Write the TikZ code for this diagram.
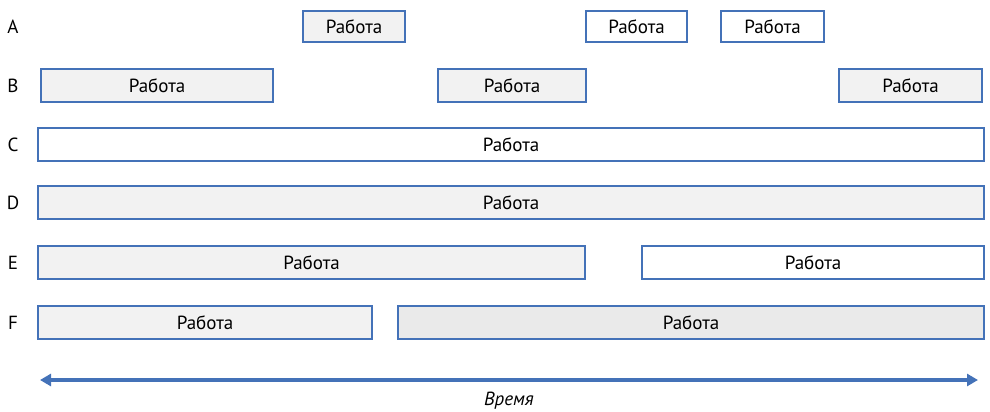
\documentclass[tikz,border=0pt]{standalone}
\usepackage{fontspec}
\setmainfont{PT Sans}
\usetikzlibrary{arrows.meta}
\definecolor{barblue}{HTML}{4472B8}
\definecolor{shade}{HTML}{F2F2F2}
\definecolor{shadedark}{HTML}{EAEAEA}
\tikzset{
  txt/.style={font=\fontsize{19}{22}\selectfont},
  work/.style={draw=barblue, line width=2.4pt, fill=#1},
  work/.default=white,
  rowlabel/.style={txt, anchor=center},
}
\newcommand{\job}[6]{% name, x1, y1, x2, y2, fill
  \path[work=#6] (#2,#3) rectangle (#4,#5);
  \node[txt] (#1) at ({(#2+#4)/2},{(#3+#5)/2}) {Работа};
}
\begin{document}
\begin{tikzpicture}[x=1pt,y=-1pt]
  \useasboundingbox (0,0) rectangle (990,412);
  % row labels
  \node[rowlabel] (la) at (13,27) {A};
  \node[rowlabel] (lb) at (13,86) {B};
  \node[rowlabel] (lc) at (13,145) {C};
  \node[rowlabel] (ld) at (13,203) {D};
  \node[rowlabel] (le) at (13,263) {E};
  \node[rowlabel] (lf) at (13,323) {F};
  % A
  \job{a1}{303}{11}{405}{42}{shade}
  \job{a2}{586}{11}{687}{42}{white}
  \job{a3}{721}{11}{824}{42}{white}
  % B
  \job{b1}{41}{69}{273}{102}{shade}
  \job{b2}{438}{69}{586}{102}{shade}
  \job{b3}{839}{69}{982}{102}{shade}
  % C
  \job{c1}{38}{128}{984}{161}{white}
  % D
  \job{d1}{38}{186}{984}{219}{shade}
  % E
  \job{e1}{38}{246}{585}{279}{shade}
  \job{e2}{642}{246}{984}{279}{white}
  % F
  \job{f1}{38}{306}{372}{339}{shade}
  \job{f2}{398}{306}{984}{339}{shadedark}
  % time axis
  \coordinate (t0) at (40,380);
  \coordinate (t1) at (978,380);
  \draw[barblue, line width=3.5pt, {Triangle[width=12pt,length=11pt]}-{Triangle[width=12pt,length=11pt]}] (t0) -- (t1);
  \node[txt, font=\fontsize{19}{22}\selectfont\itshape] (time) at (509,401) {Время};
\end{tikzpicture}
\end{document}
